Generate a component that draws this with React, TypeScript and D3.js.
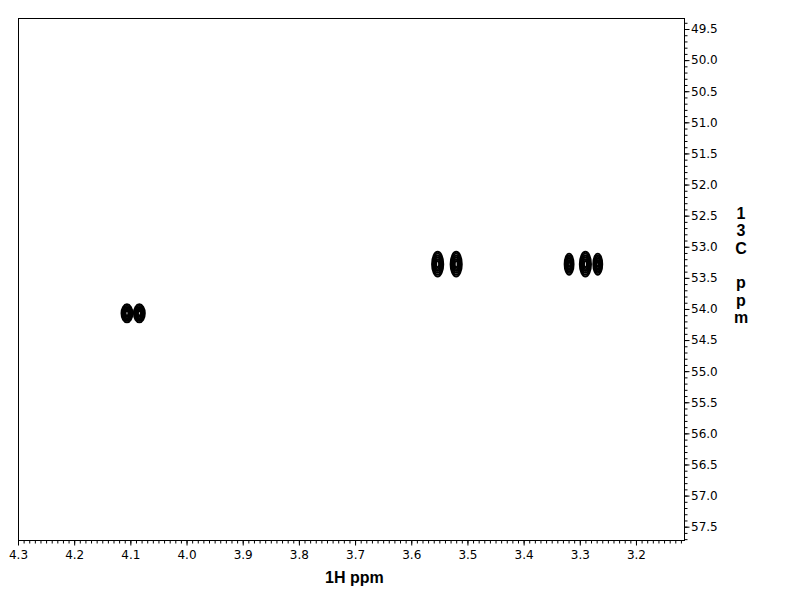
import * as d3 from "d3";
import { useEffect, useRef } from "react";

// 1H / 13C peak positions (ppm)
const peakH = [4.106, 4.084, 3.553, 3.52, 3.319, 3.29, 3.268];
const peakC = [54.07, 54.07, 53.28, 53.28, 53.28, 53.28, 53.28];
// half widths of the outer contour (ppm)
const peakWH = [0.0098, 0.0098, 0.01, 0.01, 0.008, 0.01, 0.008];
const peakWC = [0.145, 0.145, 0.2, 0.2, 0.17, 0.2, 0.17];
// relative contour levels
const levels = [1, 0.85, 0.7, 0.55, 0.4, 0.25];

const xMajor = [4.3, 4.2, 4.1, 4.0, 3.9, 3.8, 3.7, 3.6, 3.5, 3.4, 3.3, 3.2];
const yMajor = [49.5, 50.0, 50.5, 51.0, 51.5, 52.0, 52.5, 53.0, 53.5, 54.0, 54.5, 55.0, 55.5, 56.0, 56.5, 57.0, 57.5];

const W = 792;
const H = 612;

export default function App() {
  const ref = useRef<SVGSVGElement>(null);

  useEffect(() => {
    const svg = d3.select(ref.current);
    svg.selectAll("*").remove();

    const left = 18, top = 18, right = 684, bottom = 540;
    const x = d3.scaleLinear().domain([4.3, 3.1145]).range([left, right]);
    const y = d3.scaleLinear().domain([49.323, 57.714]).range([top, bottom]);

    const font = "Arial, 'Liberation Sans', sans-serif";
    const tickFont = "'DejaVu Sans', Verdana, sans-serif";

    // frame
    svg.append("rect")
      .attr("x", left + 0.5).attr("y", top + 0.5)
      .attr("width", right - left).attr("height", bottom - top)
      .attr("fill", "none").attr("stroke", "#000").attr("stroke-width", 1);

    // minor ticks
    const xMinor = d3.range(0, 120).map((i) => +(4.3 - i * 0.01).toFixed(2)).filter((v) => v > 3.1145);
    const yMinor = d3.range(0, 90).map((i) => +(49.4 + i * 0.1).toFixed(1)).filter((v) => v > 49.323 && v < 57.714);

    const gx = svg.append("g").attr("transform", `translate(0,${bottom + 0.5})`);
    gx.call(d3.axisBottom(x).tickValues(xMinor).tickSize(3).tickFormat(() => "").tickSizeOuter(0));
    gx.append("g").call(d3.axisBottom(x).tickValues(xMajor).tickSize(5).tickSizeOuter(0).tickFormat(d3.format(".1f")));
    gx.selectAll(".domain").remove();
    gx.selectAll("line").attr("stroke", "#000");
    gx.selectAll("text").attr("font-family", tickFont).attr("font-size", 12).attr("fill", "#000").attr("dy", "0").attr("y", 18.5);

    const gy = svg.append("g").attr("transform", `translate(${right + 0.5},0)`);
    gy.call(d3.axisRight(y).tickValues(yMinor).tickSize(3).tickFormat(() => "").tickSizeOuter(0));
    gy.append("g").call(d3.axisRight(y).tickValues(yMajor).tickSize(5).tickSizeOuter(0).tickFormat(d3.format(".1f")));
    gy.selectAll(".domain").remove();
    gy.selectAll("line").attr("stroke", "#000");
    gy.selectAll("text").attr("font-family", tickFont).attr("font-size", 12).attr("fill", "#000").attr("x", 6.5);

    // axis titles
    svg.append("text")
      .attr("x", 325).attr("y", 583)
      .attr("font-family", font).attr("font-size", 16).attr("font-weight", "bold")
      .text("1H ppm");

    const yTitle = "13C ppm".split("");
    svg.append("g").selectAll("text").data(yTitle).join("text")
      .attr("x", 741).attr("y", (_, i) => 219 + i * 17.3)
      .attr("text-anchor", "middle")
      .attr("font-family", font).attr("font-size", 16).attr("font-weight", "bold")
      .text((d) => d);

    // contour peaks
    const peaks = peakH.map((h, i) => ({ h, c: peakC[i], wh: peakWH[i], wc: peakWC[i] }));
    const clip = svg.append("clipPath").attr("id", "plot-clip");
    clip.append("rect").attr("x", left).attr("y", top).attr("width", right - left).attr("height", bottom - top);
    const gp = svg.append("g").attr("clip-path", "url(#plot-clip)");
    peaks.forEach((p) => {
      gp.append("g").selectAll("ellipse").data(levels).join("ellipse")
        .attr("cx", x(p.h))
        .attr("cy", y(p.c))
        .attr("rx", (l) => Math.abs(x(p.h + p.wh * l) - x(p.h)))
        .attr("ry", (l) => Math.abs(y(p.c + p.wc * l) - y(p.c)))
        .attr("fill", "none")
        .attr("stroke", "#000")
        .attr("stroke-width", 1.9);
    });
  }, []);

  return (
    <svg
      ref={ref}
      width={W}
      height={H}
      style={{ position: "absolute", left: 0, top: 0, background: "#fff" }}
    />
  );
}
